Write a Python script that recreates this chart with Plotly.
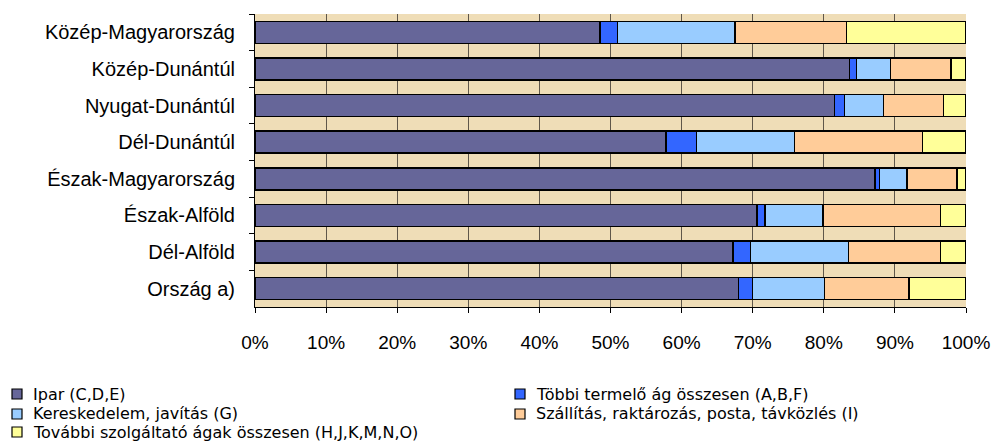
import plotly.graph_objects as go

# regions, top to bottom as in the chart
regions = ["Közép-Magyarország", "Közép-Dunántúl", "Nyugat-Dunántúl", "Dél-Dunántúl",
           "Észak-Magyarország", "Észak-Alföld", "Dél-Alföld", "Ország a)"]

# share of each sector (%)
ipar = [48.5, 83.6, 81.5, 57.8, 87.2, 70.6, 67.2, 68.0]
tobbi = [2.5, 1.0, 1.4, 4.3, 0.6, 1.1, 2.5, 2.0]
keresk = [16.5, 4.8, 5.5, 13.8, 3.9, 8.2, 13.8, 10.1]
szall = [15.7, 8.5, 8.4, 18.0, 7.0, 16.5, 12.9, 11.9]
tovabbi = [16.8, 2.1, 3.2, 6.1, 1.3, 3.6, 3.6, 8.0]

names = ["Ipar (C,D,E)", "Többi termelő ág összesen (A,B,F)", "Kereskedelem, javítás (G)",
         "Szállítás, raktározás, posta, távközlés (I)",
         "További szolgáltató ágak összesen (H,J,K,M,N,O)"]
colors = ["#666699", "#3366FF", "#99CCFF", "#FFCC99", "#FFFF99"]
values = [ipar, tobbi, keresk, szall, tovabbi]

xticks = [0, 10, 20, 30, 40, 50, 60, 70, 80, 90, 100]

W, H = 994, 445
L, R, T, B = 255, 28, 14, 138
pw, ph = W - L - R, H - T - B

def px(x):
    return (x - L) / pw

def py(y):
    return (H - B - y) / ph

fig = go.Figure()
for name, vals, col in zip(names, values, colors):
    fig.add_trace(go.Bar(
        y=regions, x=vals, name=name, orientation="h", showlegend=False,
        marker=dict(color=col, line=dict(color="black", width=1.5)),
    ))

# legend drawn by hand: two columns, tight rows like the original
slots = [(12, 394), (515, 394), (12, 414), (515, 414), (12, 432)]
for (sx, sy), name, col in zip(slots, names, colors):
    fig.add_shape(type="rect", xref="paper", yref="paper",
                  x0=px(sx), x1=px(sx + 10), y0=py(sy + 5), y1=py(sy - 5),
                  fillcolor=col, line=dict(color="black", width=1.2))
    fig.add_annotation(text=name, xref="paper", yref="paper",
                       x=px(sx + 19), y=py(sy), xanchor="left", yanchor="middle",
                       showarrow=False,
                       font=dict(family="DejaVu Sans, sans-serif", size=16))

fig.update_layout(
    barmode="stack", barnorm="percent", bargap=0.4,
    width=W, height=H,
    margin=dict(l=L, r=R, t=T, b=B, autoexpand=False),
    paper_bgcolor="white", plot_bgcolor="#EFDDB7",
    font=dict(family="Liberation Sans, Arial, sans-serif", size=18, color="black"),
    showlegend=False,
)
fig.update_xaxes(
    range=[0, 100], tickvals=xticks, ticktext=[f"{t}%" for t in xticks],
    showgrid=True, gridcolor="#5F574A", gridwidth=1,
    showline=True, linecolor="black", linewidth=1,
    ticks="outside", ticklen=5, tickcolor="black",
    ticklabelstandoff=13, zeroline=False, automargin=False,
    tickfont=dict(size=19),
)
fig.update_yaxes(
    autorange="reversed", showgrid=False,
    showline=True, linecolor="black", linewidth=1,
    ticks="outside", ticklen=5, tickcolor="black", tickson="boundaries",
    ticklabelstandoff=15, automargin=False,
    tickfont=dict(size=20),
)

# drop the default page margin so the figure sits at the window corner
fig.write_html("out.html", config={"displayModeBar": False},
               post_script="document.body.style.margin='0';")
